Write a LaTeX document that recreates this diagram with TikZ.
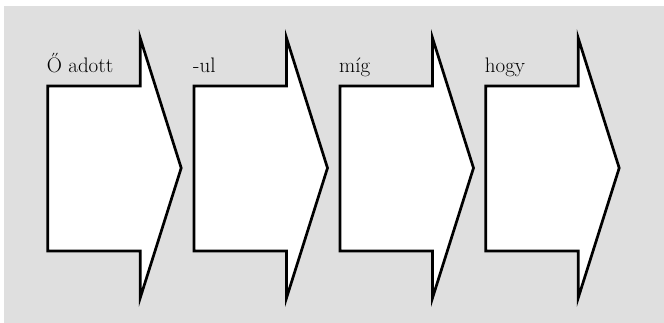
\documentclass[tikz,border=0pt]{standalone}
\definecolor{bg}{HTML}{DFDFDF}
\tikzset{
  arrowshape/.style={draw=black, fill=white, line width=2.7pt, line join=miter},
  lbl/.style={anchor=base west, inner sep=0pt, font=\fontsize{21}{25}\selectfont}
}
\begin{document}
\begin{tikzpicture}[x=1pt,y=1pt]
\useasboundingbox (0,0) rectangle (664,323);
\fill[bg] (4,0) rectangle (664,317);
\foreach \x/\t/\n in {47.7/Ő adott/a, 194/-ul/b, 340/míg/c, 485.7/hogy/d}{
  \draw[arrowshape] (\x,237) -- (\x+92.5,237) -- (\x+92.5,285) -- (\x+133.5,155)
    -- (\x+92.5,25) -- (\x+92.5,72) -- (\x,72) -- cycle;
  \node[lbl] (\n) at (\x-1,250.5) {\t};
}
\end{tikzpicture}
\end{document}
